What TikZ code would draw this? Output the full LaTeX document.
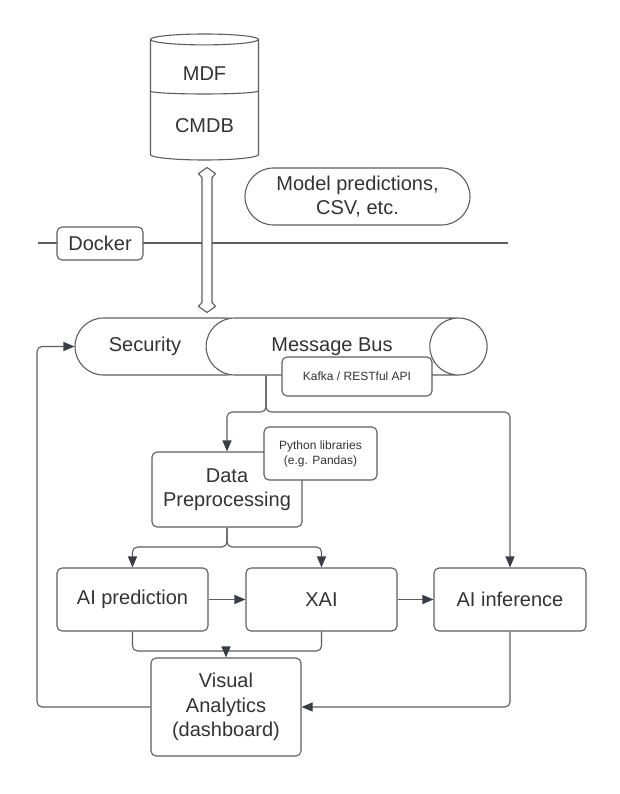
\documentclass[tikz,border=0pt]{standalone}
\usepackage{fontspec}
\setmainfont{Liberation Sans}
\usetikzlibrary{arrows.meta,calc,shapes.geometric}
\definecolor{lucidline}{HTML}{5E5E5E}
\definecolor{lucidtip}{HTML}{383D45}
\definecolor{lucidtext}{HTML}{333333}

\begin{document}
\begin{tikzpicture}[
  x=1pt,y=-1pt,
  font=\fontsize{20}{24.5}\selectfont,text=lucidtext,
  box/.style={draw=lucidline,fill=white,line width=1.1pt,rounded corners=5pt,align=center,inner sep=0pt},
  pill/.style={draw=lucidline,fill=white,line width=1.1pt,rounded corners=28.5pt,minimum height=57pt,align=center,inner sep=0pt},
  note/.style={box,font=\fontsize{12}{15}\selectfont},
  can/.style={cylinder,draw=lucidline,fill=white,line width=1.1pt,align=center,inner sep=0pt},
  wire/.style={draw=lucidline,line width=1.1pt,rounded corners=5pt},
  arr/.style={wire,-{Triangle[length=11pt,width=9pt,color=lucidtip]}},
  hollow/.style={draw=lucidline,fill=white,line width=1.1pt,line join=round}
]
\useasboundingbox[fill=white] (0,0) rectangle (620,794);

% storage and docker layer
\node[can,shape border rotate=90,aspect=0.185,minimum width=108pt,minimum height=126pt] (db) at (204.5,100) {MDF\\[27.5pt]CMDB};
\draw[hollow] ($(db.west)+(0,-9)$) arc[start angle=180,end angle=0,x radius=54,y radius=3];
\node[pill,minimum width=225pt] (models) at (357.5,196.5) {Model predictions,\\CSV, etc.};
\coordinate (dockl) at (38,243);
\coordinate (dockr) at (508,243);
\draw[wire] (dockl) -- (dockr);
\node[box,minimum width=86pt,minimum height=33pt] (docker) at (100,243.5) {Docker};

% bus
\node[pill,minimum width=180pt,label={[xshift=-20pt]center:Security}] (sec) at (165,346.5) {};
\node[can,aspect=3.2,minimum height=281pt,minimum width=57pt] (bus) at (332,346.5) {Message Bus};
\node[note,minimum width=150pt,minimum height=39pt] (kafka) at (357,376.5) {Kafka / RESTful API};

\coordinate (dbtip) at ($(db.south)+(2.5,7)$);
\coordinate (bustip) at ($(bus.north -| dbtip)+(0,-5)$);
\draw[hollow] (dbtip) -- ++(8.5,6) -- ++(-3.5,4) -- ($(bustip)+(5,-10)$) -- ++(3.5,4) -- (bustip)
  -- ++(-8.5,-6) -- ++(3.5,-4) -- ($(dbtip)+(-5,10)$) -- ++(-3.5,-4) -- cycle;

% processing
\node[box,minimum width=150pt,minimum height=75pt] (prep) at (227,489.5) {Data\\Preprocessing};
\node[note,minimum width=113pt,minimum height=53pt] (libs) at (320.5,453.5) {Python libraries\\(e.g. Pandas)};
\node[box,minimum width=151pt,minimum height=63pt] (pred) at (132.5,599.5) {AI prediction};
\node[box,minimum width=151pt,minimum height=63pt] (xai) at (321.5,599.5) {XAI};
\node[box,minimum width=152pt,minimum height=63pt] (infer) at (510,599.5) {AI inference};
\node[box,minimum width=150pt,minimum height=98pt] (va) at (226,707) {Visual\\Analytics\\(dashboard)};

\coordinate (fork1) at (266,412);
\draw[arr] (fork1 |- bus.south) -- (fork1) -| (prep.north);
\draw[arr] (fork1 |- bus.south) -- (fork1) -| (infer.north);
\coordinate (fork2) at (227,547);
\draw[arr] (prep.south) -- (fork2) -| (pred.north);
\draw[arr] (prep.south) -- (fork2) -| (xai.north);
\draw[arr] (pred) -- (xai);
\draw[arr] (xai) -- (infer);
\coordinate (join) at (226,651);
\draw[wire] (pred.south) |- (join) -| (xai.south);
\draw[arr] (join) -- (va.north);
\draw[arr] (infer.south) |- (va.east);
\coordinate (back) at (37,346.5);
\draw[arr] (va.west) -| (back) -- (sec.west);
\end{tikzpicture}
\end{document}
